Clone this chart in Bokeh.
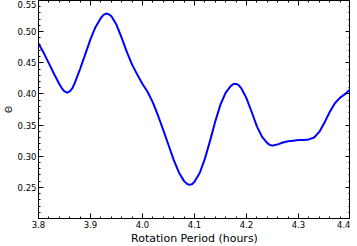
from bokeh.plotting import figure
from bokeh.models import LinearAxis, FixedTicker, PrintfTickFormatter, Range1d
from bokeh.embed import file_html
from bokeh.resources import INLINE

period = [3.800, 3.810, 3.820, 3.830, 3.840, 3.845, 3.850, 3.855, 3.860, 3.865,
          3.870, 3.880, 3.890, 3.900, 3.910, 3.920, 3.925, 3.930, 3.935, 3.940,
          3.950, 3.960, 3.970, 3.980, 3.990, 4.000, 4.010, 4.020, 4.030, 4.040,
          4.050, 4.060, 4.070, 4.080, 4.085, 4.090, 4.095, 4.100, 4.110, 4.120,
          4.130, 4.140, 4.150, 4.160, 4.170, 4.175, 4.180, 4.185, 4.190, 4.200,
          4.210, 4.220, 4.230, 4.240, 4.245, 4.250, 4.255, 4.260, 4.270, 4.280,
          4.290, 4.300, 4.310, 4.320, 4.330, 4.340, 4.350, 4.360, 4.370, 4.380,
          4.390, 4.400]
theta = [0.481, 0.466, 0.449, 0.432, 0.416, 0.409, 0.404, 0.402, 0.404, 0.409,
         0.418, 0.440, 0.464, 0.488, 0.508, 0.522, 0.527, 0.529, 0.528, 0.525,
         0.511, 0.490, 0.467, 0.447, 0.431, 0.416, 0.403, 0.386, 0.365, 0.342,
         0.318, 0.294, 0.274, 0.260, 0.256, 0.254, 0.255, 0.259, 0.273, 0.296,
         0.325, 0.356, 0.383, 0.402, 0.413, 0.416, 0.416, 0.414, 0.409, 0.393,
         0.371, 0.348, 0.331, 0.321, 0.318, 0.317, 0.318, 0.319, 0.322, 0.324,
         0.325, 0.326, 0.326, 0.327, 0.330, 0.339, 0.354, 0.371, 0.385, 0.394,
         0.400, 0.408]

x_ticks = [3.8, 3.9, 4.0, 4.1, 4.2, 4.3, 4.4]
y_ticks = [0.25, 0.30, 0.35, 0.40, 0.45, 0.50, 0.55]

x_minor = [round(3.8 + 0.02 * i, 3) for i in range(31)]
y_minor = [round(0.20 + 0.01 * i, 3) for i in range(36)]

p = figure(width=349, height=238, output_backend="svg", toolbar_location=None,
           x_range=Range1d(3.8, 4.4), y_range=Range1d(0.20, 0.55),
           frame_width=312, frame_height=218,
           min_border_left=0, min_border_right=0, min_border_top=0,
           min_border_bottom=0)

p.line(period, theta, line_color="#0000ff", line_width=2, line_join="round")

p.xgrid.visible = False
p.ygrid.visible = False
p.outline_line_color = "black"
p.outline_line_width = 1
p.background_fill_color = "white"
p.border_fill_color = "white"

def style(ax, ticks, minor, fmt, labels=True):
    ax.ticker = FixedTicker(ticks=ticks, minor_ticks=minor)
    ax.formatter = PrintfTickFormatter(format=fmt)
    ax.major_tick_in = 5
    ax.major_tick_out = 0
    ax.minor_tick_in = 2
    ax.minor_tick_out = 0
    ax.axis_line_color = "black"
    ax.major_tick_line_color = "black"
    ax.minor_tick_line_color = "black"
    ax.major_label_text_font = "DejaVu Sans"
    ax.major_label_text_font_size = "8.5px"
    ax.major_label_text_color = "black"
    ax.major_label_standoff = 2
    ax.axis_label_text_font = "DejaVu Sans"
    ax.axis_label_text_font_size = "11px"
    ax.axis_label_text_font_style = "normal"
    ax.axis_label_text_color = "black"
    ax.axis_label_standoff = 1
    if not labels:
        ax.major_label_text_alpha = 0
        ax.major_label_text_font_size = "0px"
        ax.major_label_standoff = 0
        ax.axis_label_standoff = 0

style(p.xaxis[0], x_ticks, x_minor, "%.1f")
style(p.yaxis[0], y_ticks, y_minor, "%.2f")
p.xaxis[0].axis_label = "Rotation Period (hours)"
p.yaxis[0].axis_label = "Θ"
p.yaxis[0].axis_label_text_font_size = "9px"
p.yaxis[0].axis_label_standoff = 1

top = LinearAxis()
style(top, x_ticks, x_minor, "%.1f", labels=False)
right = LinearAxis()
style(right, y_ticks, y_minor, "%.2f", labels=False)
p.add_layout(top, "above")
p.add_layout(right, "right")

open("out.html", "w").write(file_html(p, INLINE))
